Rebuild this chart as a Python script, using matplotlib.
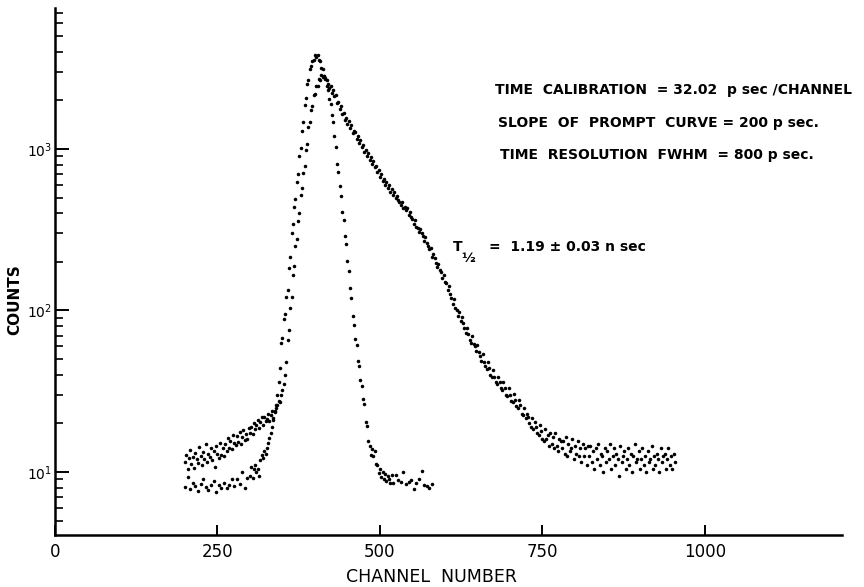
"""Delayed coincidence time spectrum (prompt and delayed curves), log counts."""

import numpy as np
import matplotlib.pyplot as plt
from matplotlib.ticker import FixedLocator, LogLocator, NullFormatter, NullLocator

# delayed (source) curve, channels 200..954 every 2 channels
source_channel = np.arange(200, 956, 2)
source_counts = [
    # 200-260
    11.5, 12.8, 10.4, 12.2, 13.6, 11.2, 12.4, 10.6, 13.1, 12.0, 11.4, 14.2, 12.5, 11.0, 13.3, 12.1,
    15.0, 11.6, 13.0, 12.3, 14.1, 11.9, 13.5, 10.8, 14.4, 13.0, 12.2, 15.2, 12.8, 14.0, 12.6,
    # 262-300
    15.0, 13.4, 16.2, 14.1, 15.6, 13.8, 17.0, 15.2, 14.6, 16.8, 15.4, 17.6, 15.0, 16.4, 18.2, 15.8,
    17.2, 16.0, 18.6, 17.4,
    # 302-340
    19.0, 17.2, 20.1, 18.4, 19.6, 21.0, 18.8, 20.4, 21.8, 19.6, 22.0, 20.6, 21.4, 23.0, 20.8, 22.6,
    24.0, 21.6, 23.4, 25.0,
    # 342-356
    26.0, 27.5, 27.0, 30.0, 32.0, 35.0, 40.0, 48.0,
    # 358-410
    66, 76, 104, 121, 165, 188, 250, 278, 360, 402, 520, 570, 715, 790, 990, 1080, 1360, 1470,
    1750, 1850, 2150, 2180, 2460, 2450, 2700, 2690, 2870,
    # 412-420
    2790, 2840, 2700, 2660, 2520,
    # 422-520
    2400, 2450, 2230, 2310, 2120, 2150, 1940, 1960, 1780, 1850, 1650, 1680, 1520, 1560, 1430, 1500,
    1350, 1400, 1260, 1300, 1270, 1150, 1200, 1090, 1130, 1030, 1060, 960, 990, 900, 945, 850,
    890, 810, 840, 770, 790, 720, 740, 670, 700, 630, 655, 600, 625, 570, 595, 545, 565, 520,
    # 522-620
    540, 495, 515, 480, 470, 450, 470, 430, 440, 420, 430, 390, 405, 378, 370, 345, 365, 330,
    325, 305, 320, 300, 290, 270, 285, 262, 250, 240, 245, 215, 225, 210, 198, 185, 195, 178,
    172, 160, 167, 150, 148, 134, 142, 126, 120, 110, 117, 104, 100, 93,
    # 622-720
    98, 86, 91, 84, 78, 73, 78, 72, 66, 63, 70, 62, 60, 56, 61, 55, 52, 49, 54, 48,
    45, 43.5, 48, 44, 40, 38.5, 43, 39, 36, 35, 38.5, 36, 33, 32, 36, 33, 30, 29.5, 33, 30,
    27.5, 27, 30.5, 28, 25.5, 25, 28, 26, 23, 22.5,
    # 722-820
    25, 21.5, 23, 22, 20, 19, 21.5, 18.5, 20.5, 19, 17.5, 17, 19.5, 18, 16, 15.5, 18.5, 16,
    17, 14.5, 17.5, 15, 16.5, 14, 17.5, 14.5, 13.5, 16, 15.5, 14, 15.5, 13, 16.5, 12.5, 15,
    13.5, 14, 16, 12, 14.5, 13, 15.5, 12.5, 14, 11.5, 15, 12.5, 14, 11, 14.5,
    # 822-954
    12.5, 14.5, 11.5, 13.5, 10.5, 14, 12, 15, 11, 13, 12.5, 10, 14, 11.5, 13.5, 12, 15, 10.5,
    12.5, 14, 11, 13, 12, 9.5, 14.5, 11.5, 12.5, 13.5, 10.5, 12, 14, 11, 13, 10, 12.5, 15,
    11.5, 12, 13.5, 10.5, 12, 14, 11, 12.5, 10, 13.5, 11.5, 12, 14.5, 10.5, 12.5, 11, 13, 12,
    10, 14, 11.5, 12.5, 13, 10.5, 12, 14, 11, 12.5, 10.5, 13, 11.5,
]

# prompt curve
prompt_channel = np.concatenate([
    np.arange(200, 300, 4),
    np.arange(300, 348, 2),
    np.arange(348, 520, 2),
    np.arange(520, 584, 4),
])
prompt_counts = [
    # 200-296 (every 4)
    8.1, 9.3, 7.8, 8.6, 8.2, 7.6, 8.4, 9.0, 8.1, 7.7, 8.3, 8.8, 7.5, 8.3, 8.0, 8.6, 7.9, 8.3,
    9.1, 8.2, 9.0, 8.4, 10.0, 8.0, 9.2,
    # 300-346
    9.5, 10.8, 9.2, 10.5, 11.0, 10.0, 10.4, 9.4, 11.8, 12.7, 12.2, 13.5, 13.0, 14.0, 15.2, 16.2,
    17.5, 19, 21, 24, 26, 30, 36, 44,
    # 348-518
    63, 68, 88, 95, 121, 134, 182, 215, 300, 345, 440, 490, 625, 705, 900, 1020, 1300, 1480,
    1880, 2080, 2530, 2690, 3150, 3250, 3520, 3580,
    3800, 3720, 3820, 3580, 3500, 3180, 3130, 2820, 2740, 2450, 2330, 2040, 1900, 1620, 1480,
    1200, 1030, 810, 725, 590, 510, 405, 365, 288, 258, 203,
    175, 137, 120, 92, 81, 67, 61, 49, 45, 37, 34, 28.5, 26.5, 20.5, 19.2, 15.6, 14.5, 12.8,
    13.8, 12.6, 13.4, 11.2, 11.0, 9.8,
    10.4, 9.3, 10.0, 9.1, 9.7, 8.8, 9.5, 9.0, 8.6, 9.6,
    # 520-580 (every 4)
    8.5, 9.6, 8.9, 8.7, 10.0, 8.4, 8.7, 8.9, 7.8, 8.6, 9.0, 10.2, 8.3, 8.2, 8.0, 8.4,
]

x_ticks = [0, 250, 500, 750, 1000]
x_tick_labels = ["0", "250", "500", "750", "1000"]
y_ticks = [10, 100, 1000]
y_tick_labels = [r"$10^1$", r"$10^2$", r"$10^3$"]

notes = [
    "TIME  CALIBRATION  = 32.02  p sec /CHANNEL",
    "SLOPE  OF  PROMPT  CURVE = 200 p sec.",
    "TIME  RESOLUTION  FWHM  = 800 p sec.",
]

W, H = 864, 587
fig = plt.figure(figsize=(W / 100, H / 100), dpi=100)
ax = fig.add_axes([55 / W, 1 - 535 / H, (842 - 55) / W, (535 - 8) / H])

ax.scatter(source_channel, source_counts, s=6.5, color="black", linewidths=0)
ax.scatter(prompt_channel, prompt_counts, s=6.5, color="black", linewidths=0)

ax.set_yscale("log")
ax.set_xlim(0, 1211)
ax.set_ylim(4.07, 7470)

for side in ("top", "right"):
    ax.spines[side].set_visible(False)
for side in ("left", "bottom"):
    ax.spines[side].set_linewidth(1.8)

ax.xaxis.set_major_locator(FixedLocator(x_ticks))
ax.set_xticklabels(x_tick_labels)
ax.xaxis.set_minor_locator(NullLocator())
ax.yaxis.set_major_locator(FixedLocator(y_ticks))
ax.set_yticklabels(y_tick_labels)
ax.yaxis.set_minor_locator(LogLocator(base=10, subs=np.arange(2, 10)))
ax.yaxis.set_minor_formatter(NullFormatter())

ax.tick_params(axis="x", which="major", direction="in", length=7, width=1.4,
               labelsize=12, pad=6)
ax.tick_params(axis="y", which="major", direction="in", length=10, width=1.4,
               labelsize=10, pad=2)
ax.tick_params(axis="y", which="minor", direction="in", length=6, width=1.2)

fig.text(432 / W, 1 - 577 / H, "CHANNEL  NUMBER", ha="center", va="center", fontsize=12.5)
fig.text(15 / W, 1 - 300 / H, "COUNTS", ha="center", va="center", rotation=90,
         fontsize=11, fontweight="bold")

for (px, py), line in zip([(495, 90), (498, 123), (500, 155)], notes):
    fig.text(px / W, 1 - py / H, line, ha="left", va="center", fontsize=10,
             fontweight="bold")

fig.text(453 / W, 1 - 247 / H, "T", ha="left", va="center", fontsize=10, fontweight="bold")
fig.text(461 / W, 1 - 258 / H, "½", ha="left", va="center", fontsize=9.5, fontweight="bold")
fig.text(489 / W, 1 - 247 / H, "=  1.19 ± 0.03 n sec", ha="left", va="center",
         fontsize=10, fontweight="bold")

fig.savefig("out.png", dpi=100)
